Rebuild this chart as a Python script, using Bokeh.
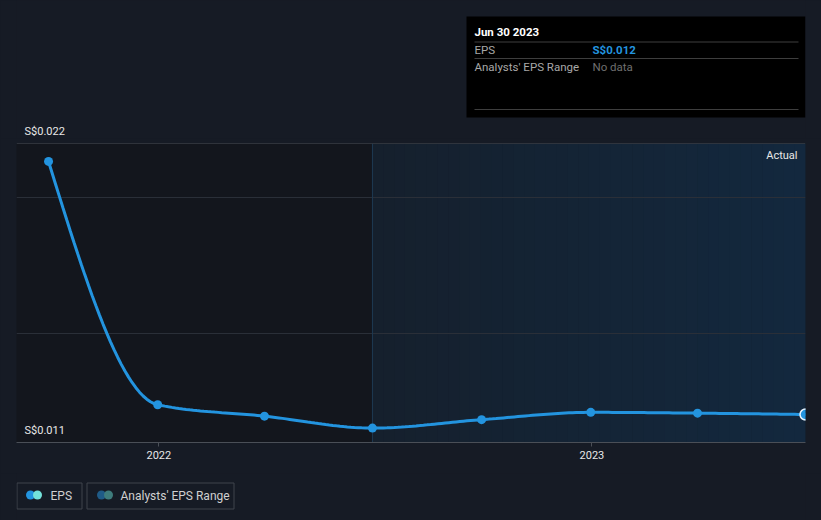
import numpy as np
import pandas as pd
from bokeh.plotting import figure
from bokeh.layouts import column
from bokeh.models import Range1d, FixedTicker, Label, Span
from bokeh.core.properties import value
from bokeh.embed import file_html
from bokeh.resources import INLINE

# ---------------- data ----------------
dates = ["2021-09-30", "2021-12-31", "2022-03-31", "2022-06-30",
         "2022-09-30", "2022-12-31", "2023-03-31", "2023-06-30"]
eps = [0.02134, 0.01239, 0.01197, 0.01153, 0.01184, 0.01211, 0.01208, 0.01203]

y_tick_values = [0.011, 0.022]
y_tick_labels = ["S$0.011", "S$0.022"]
y_grid_values = [0.015, 0.020]
x_tick_dates = ["2022-01-01", "2023-01-01"]
x_tick_labels = ["2022", "2023"]
x_start_date = "2021-09-03"
divider_date = "2022-06-30"
legend_labels = ["EPS", "Analysts' EPS Range"]
tooltip_labels = ["EPS", "Analysts' EPS Range"]
tooltip_values = ["S${:.3f}".format(eps[-1]), "No data"]
region_label = "Actual"

# ---------------- style ----------------
BG = "#161b25"
LEFT_BG = "#13161d"
BLUE = "#2394df"
TEXT = "#e8e8e8"
FONT = "Roboto"
W = 821
FL, FR = 16, 805   # frame edges in page pixels (column aligns all frames)


def to_ms(seq):
    return (pd.to_datetime(seq).asi8 // 1_000_000).astype(float)


xs = to_ms(dates)
x_ticks = to_ms(x_tick_dates)
x_start = to_ms([x_start_date])[0]
x_end = xs[-1]
x_div = to_ms([divider_date])[0]


def monotone_path(x, y, n=30):
    x = np.asarray(x, float)
    y = np.asarray(y, float)
    h = np.diff(x)
    s = np.diff(y) / h
    m = np.zeros(len(x))
    for i in range(1, len(x) - 1):
        p = (s[i - 1] * h[i] + s[i] * h[i - 1]) / (h[i - 1] + h[i])
        m[i] = (np.sign(s[i - 1]) + np.sign(s[i])) * min(abs(s[i - 1]), abs(s[i]), 0.5 * abs(p))
    m[0] = (3 * s[0] - m[1]) / 2
    m[-1] = (3 * s[-1] - m[-2]) / 2
    px, py = [x[0]], [y[0]]
    for i in range(len(x) - 1):
        t = np.linspace(0, 1, n + 1)[1:]
        dx = h[i]
        h00 = 2 * t**3 - 3 * t**2 + 1
        h10 = t**3 - 2 * t**2 + t
        h01 = -2 * t**3 + 3 * t**2
        h11 = t**3 - t**2
        px.extend(x[i] + t * dx)
        py.extend(h00 * y[i] + h10 * dx * m[i] + h01 * y[i + 1] + h11 * dx * m[i + 1])
    return px, py


def bare(fig):
    fig.background_fill_color = BG
    fig.border_fill_color = BG
    fig.outline_line_color = None
    fig.grid.visible = False


# ---------------- header (tooltip box + top value label) ----------------
HH = 138
head = figure(width=W, height=HH, x_range=Range1d(FL, FR), y_range=Range1d(HH, 0),
              output_backend="svg", toolbar_location=None,
              x_axis_location=None, y_axis_location=None,
              min_border_left=FL, min_border_right=W - FR, min_border_top=0, min_border_bottom=0)
bare(head)
head.quad(left=[466], right=[805], top=[16], bottom=[117], fill_color="#000000", line_color=None)
head.segment(x0=[474, 474, 474], x1=[798, 798, 798], y0=[41.5, 58, 109], y1=[41.5, 58, 109],
             line_color="#3e3e3e", line_width=1)
head.text(x=[474], y=[31], text=[pd.Timestamp(dates[-1]).strftime("%b %d %Y")],
          text_font=value(FONT), text_font_size="11.5px", text_font_style="bold",
          text_color="#ffffff", text_baseline="middle")
head.text(x=[474, 474], y=[49, 66], text=tooltip_labels,
          text_font=value(FONT), text_font_size="11.5px",
          text_color="#a8a8a8", text_baseline="middle")
head.text(x=[592, 592], y=[49, 66], text=tooltip_values,
          text_font=value(FONT), text_font_size="11.5px",
          text_font_style=["bold", "normal"],
          text_color=[BLUE, "#6f6f6f"], text_baseline="middle")
head.text(x=[24], y=[130.5], text=[y_tick_labels[-1]], text_font=value(FONT),
          text_font_size="11px", text_color=TEXT, text_baseline="middle")

# ---------------- main chart ----------------
p = figure(width=W, height=335, x_range=Range1d(x_start, x_end),
           y_range=Range1d(y_tick_values[0], y_tick_values[-1]),
           output_backend="svg", toolbar_location=None, y_axis_location=None,
           min_border_left=FL, min_border_right=W - FR, min_border_top=5, min_border_bottom=31)
p.background_fill_color = LEFT_BG
p.border_fill_color = BG
p.outline_line_color = None
p.xgrid.visible = False
p.ygrid.ticker = FixedTicker(ticks=y_grid_values)
p.ygrid.grid_line_color = "#2a2f38"
p.ygrid.grid_line_width = 1

# right-hand shaded region (horizontal gradient)
nb = 40
edges = np.linspace(x_div, x_end, nb + 1)
c0 = np.array([21, 32, 45])
c1 = np.array([19, 40, 62])
cols = ["#%02x%02x%02x" % tuple(np.round(c0 + (c1 - c0) * k / (nb - 1)).astype(int)) for k in range(nb)]
p.quad(left=edges[:-1], right=edges[1:] + (edges[1] - edges[0]) * 0.05,
       bottom=y_tick_values[0], top=y_tick_values[-1],
       fill_color=cols, line_color=None, level="image")

p.add_layout(Span(location=x_div, dimension="height", line_color="#1d3a52", line_width=1, level="underlay"))
p.add_layout(Span(location=y_tick_values[-1], dimension="width", line_color="#4a4f57", line_width=1, level="underlay"))

lx, ly = monotone_path(xs, eps)
p.line(lx, ly, line_color=BLUE, line_width=3)
p.scatter(xs[:-1], eps[:-1], size=9, fill_color=BLUE, line_color=None)
p.scatter(xs[-1:], eps[-1:], size=11, fill_color=BLUE, line_color="#e8f4ff", line_width=1.5)

p.xaxis.ticker = FixedTicker(ticks=list(x_ticks))
p.xaxis.major_label_overrides = {float(t): lab for t, lab in zip(x_ticks, x_tick_labels)}
p.xaxis.axis_line_color = "#4a4f57"
p.xaxis.major_tick_line_color = "#4a4f57"
p.xaxis.major_tick_in = 0
p.xaxis.major_tick_out = 4
p.xaxis.minor_tick_line_color = None
p.xaxis.major_label_text_font = FONT
p.xaxis.major_label_text_font_size = "11px"
p.xaxis.major_label_text_color = TEXT
p.xaxis.major_label_standoff = 4

p.add_layout(Label(x=x_start, y=y_tick_values[0], x_offset=8, y_offset=6, text=y_tick_labels[0],
                   text_font=FONT, text_font_size="11px", text_color=TEXT,
                   text_baseline="bottom"))
p.add_layout(Label(x=x_end, y=y_tick_values[-1], x_offset=-8, y_offset=-5, text=region_label,
                   text_font=FONT, text_font_size="11px", text_color=TEXT,
                   text_baseline="top", text_align="right"))

# ---------------- legend ----------------
LH = 47
leg = figure(width=W, height=LH, x_range=Range1d(FL, FR), y_range=Range1d(LH, 0),
             output_backend="svg", toolbar_location=None,
             x_axis_location=None, y_axis_location=None,
             min_border_left=FL, min_border_right=W - FR, min_border_top=0, min_border_bottom=0)
bare(leg)
leg.quad(left=[16.5, 86.5], right=[81.5, 233.5], top=[9.5, 9.5], bottom=[35.5, 35.5],
         fill_alpha=0, line_color="#3f444c", line_width=1)
leg.scatter(x=[30, 37], y=[21.5, 21.5], size=9, fill_color=[BLUE, "#74e2da"], line_color=None)
leg.scatter(x=[101, 108], y=[21.5, 21.5], size=9, fill_color=["#1f5b87", "#3e7c7c"], line_color=None)
leg.text(x=[50, 120], y=[22, 22], text=legend_labels, text_font=value(FONT),
         text_font_size="12px", text_color="#d0d0d0", text_baseline="middle")

layout = column(head, p, leg, spacing=0)
html = file_html(layout, INLINE)
html = html.replace("</head>", "<style>html,body{background:%s;}</style></head>" % BG, 1)
open("out.html", "w").write(html)
